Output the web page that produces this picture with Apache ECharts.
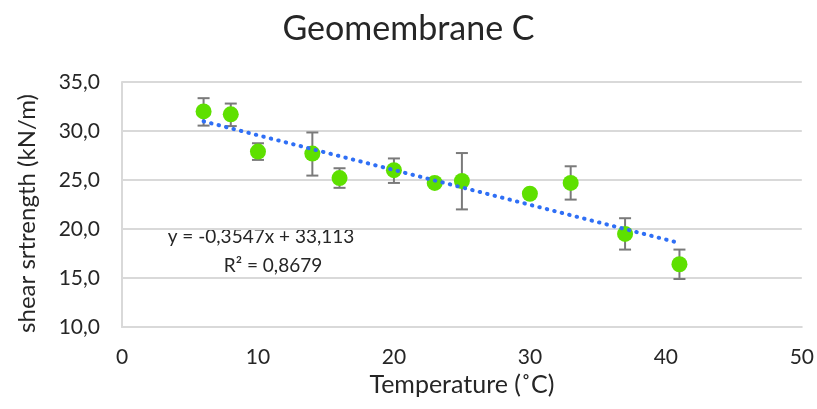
<!DOCTYPE html>
<html>
<head>
<meta charset="utf-8">
<style>
  html, body { margin: 0; padding: 0; background: #fff; }
  #chart { width: 817px; height: 409px; }
</style>
<script src="https://cdn.jsdelivr.net/npm/echarts@6/dist/echarts.min.js"></script>
</head>
<body>
<div id="chart"></div>
<script>
  // temperature (°C) and shear strength (kN/m)
  const temperature = [6, 8, 10, 14, 16, 20, 23, 25, 30, 33, 37, 41]
  const strength = [32.0, 31.7, 27.9, 27.7, 25.2, 26.0, 24.7, 24.9, 23.6, 24.7, 19.5, 16.4]
  const errUp = [1.35, 1.1, 0.85, 2.15, 1.0, 1.2, 0.25, 2.85, 0, 1.7, 1.6, 1.5]
  const errDown = [1.45, 1.2, 0.85, 2.25, 1.0, 1.3, 0.25, 2.9, 0, 1.7, 1.6, 1.5]
  // linear trendline from the chart's equation
  const slope = -0.3547
  const intercept = 33.113
  const r2 = 0.8679
  const xTicks = [0, 10, 20, 30, 40, 50]
  const yTicks = [10, 15, 20, 25, 30, 35]

  const font = 'Lato'
  const ink = '#262626'
  const fmt = (v, d) => v.toFixed(d).replace('.', ',')

  const points = temperature.map((t, i) => [t, strength[i]])
  const bars = temperature.map((t, i) => [t, strength[i] + errUp[i], strength[i] - errDown[i]])
  const xMin = Math.min(...temperature)
  const xMax = Math.max(...temperature)
  const trend = [[xMin, slope * xMin + intercept], [xMax, slope * xMax + intercept]]

  const myChart = echarts.init(document.getElementById('chart'))
  myChart.setOption({
    animation: false,
    title: {
      text: 'Geomembrane C',
      left: 'center',
      top: 7,
      textStyle: { fontFamily: font, fontSize: 34, fontWeight: 'normal', color: ink }
    },
    grid: { left: 122, right: 12, top: 82, bottom: 82 },
    xAxis: {
      type: 'value',
      min: xTicks[0],
      max: xTicks[xTicks.length - 1],
      interval: 10,
      name: 'Temperature (˚C)',
      nameLocation: 'middle',
      nameGap: 39,
      nameTextStyle: { fontFamily: font, fontSize: 25, color: ink },
      axisLine: { show: true, lineStyle: { color: '#d9d9d9', width: 2 } },
      axisTick: { show: false },
      splitLine: { show: false },
      axisLabel: { fontFamily: font, fontSize: 21, color: ink, margin: 20 }
    },
    yAxis: {
      type: 'value',
      min: yTicks[0],
      max: yTicks[yTicks.length - 1],
      interval: 5,
      name: 'shear srtrength (kN/m)',
      nameLocation: 'middle',
      nameGap: 83,
      nameTextStyle: { fontFamily: font, fontSize: 24, color: ink, padding: [0, 18, 0, 0] },
      axisLine: { show: true, lineStyle: { color: '#d9d9d9', width: 2 } },
      axisTick: { show: false },
      splitLine: { lineStyle: { color: '#d9d9d9', width: 2 } },
      axisLabel: { fontFamily: font, fontSize: 21, color: ink, margin: 22, formatter: v => fmt(v, 1) }
    },
    graphic: [
      {
        type: 'text',
        x: 261,
        y: 237,
        style: {
          text: 'y = ' + fmt(slope, 4) + 'x + ' + fmt(intercept, 3),
          textAlign: 'center',
          textVerticalAlign: 'middle',
          fontFamily: font,
          fontSize: 19,
          fill: ink
        }
      },
      {
        type: 'text',
        x: 273,
        y: 266,
        style: {
          text: 'R² = ' + fmt(r2, 4),
          textAlign: 'center',
          textVerticalAlign: 'middle',
          fontFamily: font,
          fontSize: 19,
          fill: ink
        }
      }
    ],
    series: [
      {
        type: 'custom',
        name: 'error',
        data: bars,
        z: 2,
        renderItem: function (params, api) {
          const x = api.value(0)
          const hi = api.coord([x, api.value(1)])
          const lo = api.coord([x, api.value(2)])
          if (Math.abs(hi[1] - lo[1]) < 1) return null
          const w = 6
          const st = { stroke: '#7a7a7a', lineWidth: 2 }
          return {
            type: 'group',
            children: [
              { type: 'line', shape: { x1: hi[0], y1: hi[1], x2: lo[0], y2: lo[1] }, style: st },
              { type: 'line', shape: { x1: hi[0] - w, y1: hi[1], x2: hi[0] + w, y2: hi[1] }, style: st },
              { type: 'line', shape: { x1: lo[0] - w, y1: lo[1], x2: lo[0] + w, y2: lo[1] }, style: st }
            ]
          }
        }
      },
      {
        type: 'scatter',
        name: 'strength',
        data: points,
        symbol: 'circle',
        symbolSize: 16,
        z: 3,
        itemStyle: { color: '#5ee000', opacity: 1 }
      },
      {
        type: 'line',
        name: 'trend',
        data: trend,
        symbol: 'none',
        z: 4,
        lineStyle: { color: '#2f6ff5', width: 4, type: [0.5, 7.2], cap: 'round' }
      }
    ]
  })
</script>
</body>
</html>
